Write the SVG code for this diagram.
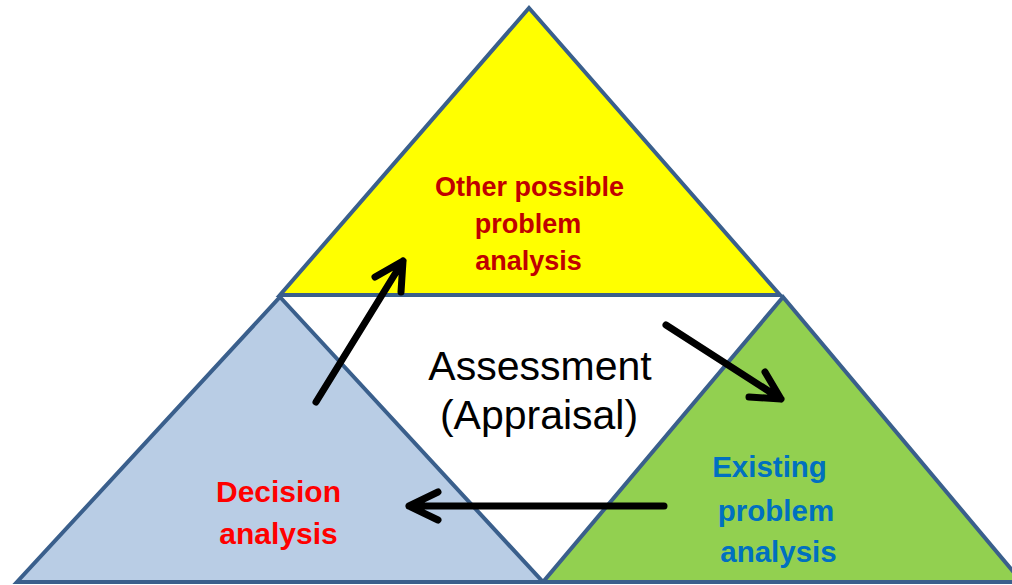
<svg xmlns="http://www.w3.org/2000/svg" width="1012" height="585" viewBox="0 0 1012 585">
<defs>
<style>
.tri{stroke:#3A5F8C;stroke-width:4;stroke-linejoin:miter}
.lbl{font-family:"Liberation Sans",Arial,sans-serif;font-weight:bold;text-anchor:middle}
.ctr{font-family:"Liberation Sans",Arial,sans-serif;font-size:41px;fill:#000;text-anchor:middle}
.arr{fill:none;stroke:#000;stroke-width:7;stroke-linecap:round;stroke-linejoin:round}
</style>
</defs>
<rect width="1012" height="585" fill="#fff"/>
<g id="center">
<polygon points="280,296 781,296 543,582" fill="#fff"/>
<text class="ctr" x="540" y="380">Assessment</text>
<text class="ctr" x="539" y="429">(Appraisal)</text>
</g>
<g id="top">
<polygon class="tri" points="529,8 780,295 280,295" fill="#FFFF00"/>
<g class="lbl" font-size="27" fill="#C00000">
<text x="529.5" y="196">Other possible</text>
<text x="528" y="233">problem</text>
<text x="528.5" y="270">analysis</text>
</g>
</g>
<g id="left">
<polygon class="tri" points="280,297 543,582 17,582" fill="#B9CDE5"/>
<g class="lbl" font-size="30" fill="#FF0000">
<text x="278.5" y="501.5">Decision</text>
<text x="278.5" y="543.5">analysis</text>
</g>
</g>
<g id="right">
<polygon class="tri" points="783,297 1022,582 543,582" fill="#92D050"/>
<g class="lbl" font-size="29.5" fill="#0070C0">
<text x="769.5" y="477">Existing</text>
<text x="776" y="521">problem</text>
<text x="778.5" y="561.5">analysis</text>
</g>
</g>
<g id="connectors">
<path class="arr" d="M316,402 L403,261 M375,277 L403,261 L401,292"/>
<path class="arr" d="M666,325 L781,399 M765,372 L781,399 L749,397"/>
<path class="arr" d="M664,506 L409,506 M438,492 L409,506 L438,520"/>
</g>
</svg>
